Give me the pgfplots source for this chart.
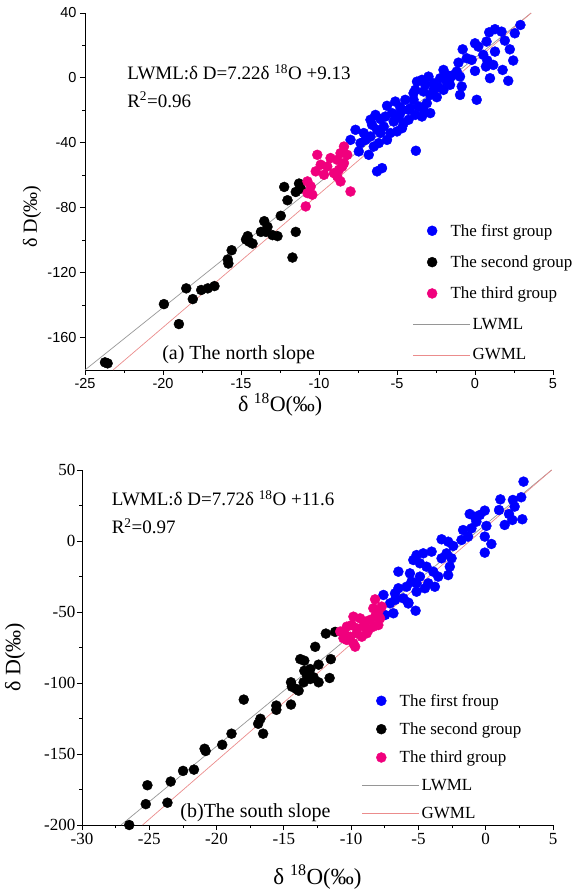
\documentclass[border=0pt]{standalone}
\usepackage{fontspec}
\setmainfont{Liberation Serif}
\setsansfont{Liberation Sans}
\usepackage{pgfplots}
\pgfplotsset{compat=1.18}
\definecolor{myblue}{RGB}{0,0,255}
\definecolor{mypink}{RGB}{240,0,125}
\definecolor{lwml}{RGB}{150,150,150}
\definecolor{gwml}{RGB}{235,140,140}
\pgfplotsset{
  base/.style={scale only axis, axis lines=left, axis line style={-, line width=0.9pt},
    tick align=outside, major tick length=5pt, minor tick length=3pt,
    tick style={black, line width=0.8pt}, minor tick num=1, clip=false,
    /pgf/number format/assume math mode=true,
    legend cell align=left,
    legend style={draw=none, fill=none, inner sep=0pt, font=\fontsize{17}{19}\selectfont}},
  pts/.style={only marks, mark=*, mark size=5pt, color=#1, mark options={draw=none, fill=#1},
    legend image code/.code={\draw[##1] plot coordinates {(19pt,0pt)}; \path[draw=none, fill=none] (0pt,0pt) -- (57pt,0pt);}},
  ln/.style={no marks, color=#1, line width=0.7pt,
    legend image code/.code={\draw[##1] (0pt,0pt) -- (57pt,0pt);}},
}
\begin{document}
\begin{tikzpicture}
\useasboundingbox (0,0) rectangle (580pt,893pt);
% ---------------- top: north slope
\begin{axis}[base, at={(85pt,523pt)}, anchor=south west, width=468pt, height=357pt,
  xmin=-25, xmax=5, ymin=-180, ymax=40,
  xtick={-25,-20,...,5}, ytick={-160,-120,...,40},
  tick label style={font=\sffamily\fontsize{14.5}{16}\selectfont},
  xlabel={δ \textsuperscript{18}O(‰)}, ylabel={δ D(‰)},
  xlabel style={font=\fontsize{22}{24}\selectfont, at={(axis description cs:0.417,-0.098)}, anchor=center},
  ylabel style={font=\fontsize{20}{22}\selectfont, at={(axis description cs:-0.113,0.43)}, anchor=center},
  legend style={at={(axis description cs:0.70,0.415)}, anchor=north west, row sep=14pt}]
\addplot[pts=myblue] coordinates {(2.91,32.6)(2.55,27.5)(1.28,30)(1.70,28.5)(0.91,28.1)(0.74,22.4)(1.91,23)(0,21.3)(0.21,19.3)(-0.79,17.6)(2.23,17.6)(1.28,16.2)(-0.53,12.1)(-0.21,11.1)(0.53,14.2)(0.79,10.7)(2.45,10.7)(-1.06,9.4)(1.17,8)(0.70,7)(1.77,4.9)(0,4.3)(0.96,-0.2)(2.13,-1.8)(-2.02,4.9)(-1.81,1.8)(-2.23,-0.2)(-1.38,1.8)(-0.96,0.8)(-0.85,-5.3)(-0.96,-10.5)(0.11,-13.5)(-3.72,-2.3)(-3.40,-1.2)(-2.98,0.8)(-2.66,-3.3)(-2.34,-5.7)(-3.83,-7.4)(-3.30,-8.4)(-2.87,-10.5)(-2.45,-11.9)(-2.02,-7.4)(-1.60,-4.3)(-3.94,-13.5)(-3.62,-17.6)(-3.09,-15.6)(-3.30,-19.7)(-2.87,-21.7)(-3.40,-23.8)(-5.64,-17.2)(-5.11,-14.6)(-4.79,-18.1)(-4.47,-13.5)(-4.15,-18.7)(-5.32,-21.7)(-4.89,-24.2)(-4.57,-27.9)(-4.26,-25.8)(-3.83,-22.8)(-6.38,-22.8)(-6.06,-25.4)(-6.60,-28.9)(-6.28,-32)(-5.85,-30)(-5.43,-34)(-5.0,-33)(-4.68,-31)(-7.66,-32)(-7.98,-38.2)(-7.34,-40.2)(-7.02,-38.2)(-6.70,-36.1)(-6.49,-42.3)(-6.17,-40.2)(-7.45,-45.3)(-6.81,-47.4)(-3.79,-44.9)(-6.28,-57.6)(-5.96,-55.6)(-2.66,-7.4)(-3.19,-4.3)(-3.94,-9.4)(-4.79,-21.7)(-4.26,-19.7)(-5.21,-26.9)(-5.74,-23.8)(-6.70,-25.8)(-6.06,-34)(-5.64,-38.2)(-7.13,-34)(-1.60,-0.2)(-1.17,3.9)(-1.81,-2.3)};
\addlegendentry{\hspace*{-22pt}The first group}
\addplot[pts=black] coordinates {(-12.23,-67.2)(-11.28,-65.1)(-11.17,-68.2)(-11.49,-70.3)(-12.02,-75.4)(-12.45,-85)(-13.51,-88.3)(-13.30,-91.8)(-13.72,-94.9)(-13.4,-94.9)(-12.98,-96.9)(-12.66,-97.5)(-11.49,-94.9)(-14.57,-97.5)(-14.68,-99.6)(-14.26,-102.1)(-14.47,-101)(-15.60,-106.2)(-15.85,-111.9)(-15.81,-114.4)(-11.70,-110.7)(-16.70,-128.3)(-17.13,-129.7)(-17.55,-130.7)(-18.51,-129.7)(-18.09,-136.3)(-19.94,-139.4)(-18.98,-151.7)(-23.72,-175.3)(-23.55,-175.9)};
\addlegendentry{\hspace*{-22pt}The second group}
\addplot[pts=mypink] coordinates {(-8.40,-42.3)(-8.62,-46.4)(-8.19,-47.4)(-10.11,-47.4)(-9.26,-49.4)(-8.83,-50.5)(-8.40,-52.5)(-9.89,-53.5)(-9.47,-54.6)(-10.21,-57.6)(-9.68,-59.7)(-9.04,-58.7)(-8.72,-56.6)(-8.51,-54.6)(-8.83,-60.7)(-8.62,-63.8)(-7.98,-70)(-10.74,-63.8)(-10.53,-66.9)(-10.74,-71)(-10.43,-72)(-10.85,-79.2)};
\addlegendentry{\hspace*{-22pt}The third group}
\addplot[ln=lwml] coordinates {(-25,-180)(3.6,40)};
\addlegendentry{LWML}
\addplot[ln=gwml] coordinates {(-23.2,-180)(3.6,40)};
\addlegendentry{GWML}
\node[anchor=west, inner sep=0pt, font=\fontsize{19}{22}\selectfont] at (axis cs:-22.3,3.7) {LWML:δ D=7.22δ \textsuperscript{18}O +9.13};
\node[anchor=west, inner sep=0pt, font=\fontsize{19}{22}\selectfont] at (axis cs:-22.3,-13.5) {R\textsuperscript{2}=0.96};
\node[anchor=west, inner sep=0pt, font=\fontsize{20}{22}\selectfont] at (axis cs:-20.06,-170.5) {(a) The north slope};
\end{axis}
% ---------------- bottom: south slope
\begin{axis}[base, at={(82pt,68pt)}, anchor=south west, width=471pt, height=355pt,
  xmin=-30, xmax=5, ymin=-200, ymax=50,
  xtick={-30,-25,...,5}, ytick={-200,-150,...,50},
  tick label style={font=\fontsize{17}{19}\selectfont},
  yticklabel style={inner xsep=1.5pt},
  xlabel={δ \textsuperscript{18}O(‰)}, ylabel={δ D(‰)},
  xlabel style={font=\fontsize{23}{25}\selectfont, at={(axis description cs:0.5,-0.146)}, anchor=center},
  ylabel style={font=\fontsize{22}{24}\selectfont, at={(axis description cs:-0.142,0.473)}, anchor=center},
  legend style={at={(axis description cs:0.594,0.375)}, anchor=north west, row sep=11pt}]
\addplot[pts=myblue] coordinates {(2.81,41.8)(1.09,29.3)(2.02,28.9)(2.64,30.8)(2.15,24.2)(0.99,21.8)(1.73,19)(1.41,11.3)(1.98,14.8)(2.72,15.3)(-1.19,19)(-0.81,17.1)(-0.44,18.3)(-0.07,21.4)(-0.69,13.6)(0.05,10.6)(-1.06,8.9)(-1.68,7.7)(-1.31,3.1)(-1.80,0.7)(-0.07,3.1)(0.42,-2.1)(-0.07,-8.2)(-3.28,1.2)(-2.79,-0.5)(-2.42,-3.5)(-2.91,-8.7)(-2.54,-12.2)(-5.14,-9.9)(-4.64,-8.7)(-4.02,-7.5)(-5.38,-13.4)(-4.89,-15.7)(-4.40,-18.1)(-3.90,-21.6)(-3.53,-25.1)(-2.79,-24)(-2.67,-18.1)(-3.28,-12.2)(-6.49,-21.6)(-5.63,-22.8)(-4.89,-25.1)(-4.27,-29.8)(-3.78,-32.2)(-5.14,-29.8)(-5.88,-32.2)(-6.49,-33.3)(-6.74,-36.9)(-6.12,-40.4)(-5.75,-44)(-5.14,-35.7)(-4.52,-33.3)(-5.51,-28.6)(-5.21,-49.1)(-5.75,-43.4)(-6.86,-50.9)(-7.48,-52.1)(-7.60,-38)(-7.11,-43.9)(-6.74,-41.5)};
\addlegendentry{\hspace*{-22pt}The first froup}
\addplot[pts=black] coordinates {(-11.88,-65.2)(-11.19,-64)(-12.67,-74.5)(-13.78,-83.2)(-13.48,-84.3)(-12.42,-87.1)(-11.51,-83.2)(-13.48,-91.4)(-13.04,-90.2)(-13.28,-94.9)(-12.79,-96)(-13.53,-99.5)(-13.04,-97.2)(-12.42,-99.5)(-11.60,-96.5)(-14.47,-99.5)(-14.40,-102.6)(-14.07,-104.2)(-13.90,-105.4)(-17.98,-111.7)(-15.56,-115.9)(-15.56,-118.9)(-14.47,-115.2)(-16.74,-125.2)(-16.91,-128.7)(-16.54,-135.7)(-18.89,-135.7)(-19.58,-143.5)(-20.89,-146.3)(-20.81,-147.9)(-22.49,-161.9)(-21.68,-161)(-23.41,-169.4)(-25.14,-172)(-25.26,-185.3)(-23.65,-184.3)(-26.49,-200)};
\addlegendentry{\hspace*{-22pt}The second group}
\addplot[pts=mypink] coordinates {(-8.22,-41.1)(-8.35,-47.4)(-7.98,-49.8)(-7.73,-46.2)(-9.83,-53.3)(-9.33,-54.5)(-8.96,-56.8)(-8.59,-55.6)(-8.22,-53.3)(-7.85,-54.5)(-10.32,-60.3)(-9.95,-59.2)(-9.58,-61.5)(-9.09,-60.3)(-8.72,-62.7)(-8.35,-60.3)(-7.98,-59.2)(-10.81,-63.8)(-10.44,-66.2)(-10.07,-67.4)(-9.58,-65)(-9.21,-67.4)(-8.84,-65)(-10.32,-69.7)(-9.83,-72.1)(-9.70,-74.4)(-10.57,-68.5)};
\addlegendentry{\hspace*{-22pt}The third group}
\addplot[ln=lwml] coordinates {(-27.1,-200)(4.9,50)};
\addlegendentry{LWML}
\addplot[ln=gwml] coordinates {(-25.5,-200)(4.9,50)};
\addlegendentry{GWML}
\node[anchor=west, inner sep=0pt, font=\fontsize{19}{22}\selectfont] at (axis cs:-27.8,30.3) {LWML:δ D=7.72δ \textsuperscript{18}O +11.6};
\node[anchor=west, inner sep=0pt, font=\fontsize{19}{22}\selectfont] at (axis cs:-27.8,10.6) {R\textsuperscript{2}=0.97};
\node[anchor=west, inner sep=0pt, font=\fontsize{20}{22}\selectfont] at (axis cs:-22.7,-191.5) {(b)The south slope};
\end{axis}
\end{tikzpicture}
\end{document}
